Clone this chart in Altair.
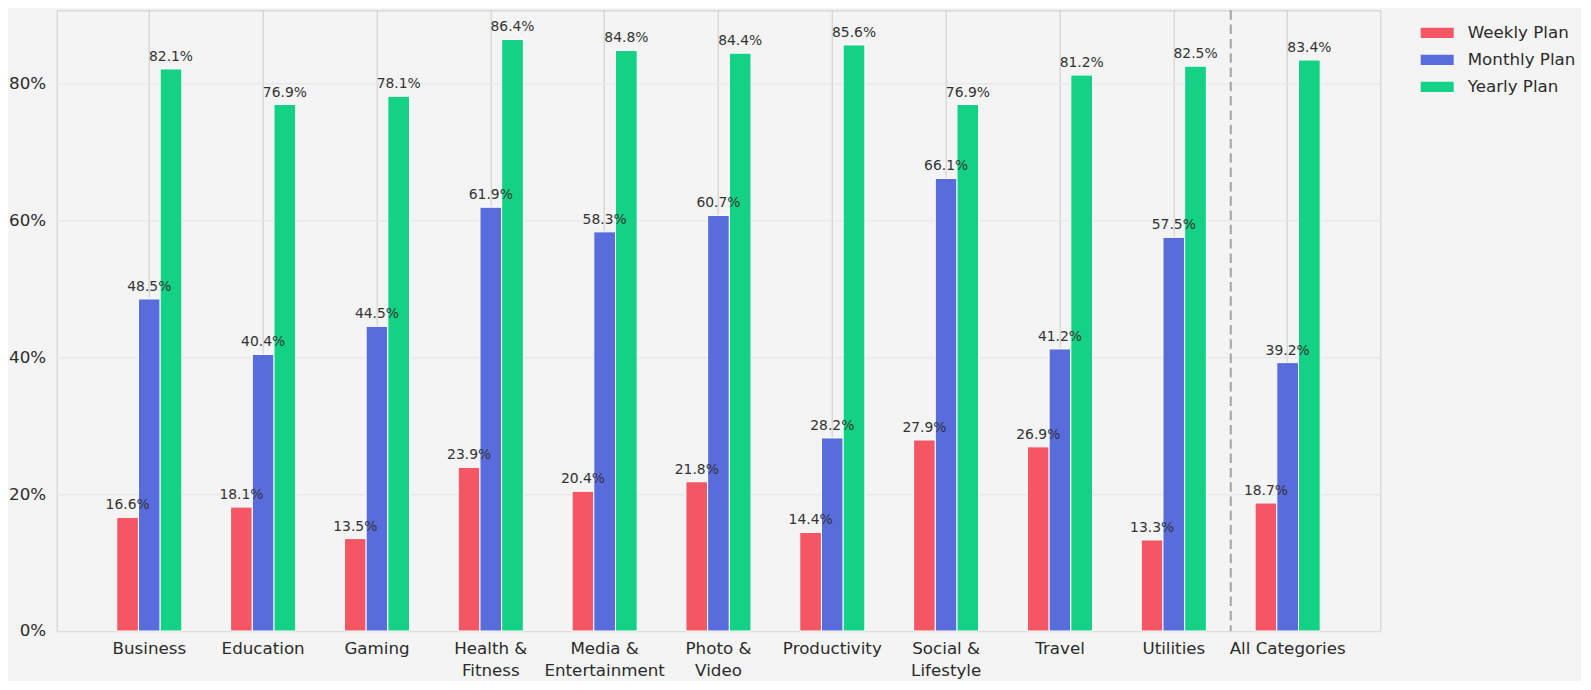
import altair as alt
import pandas as pd

categories = ["Business", "Education", "Gaming", "Health & Fitness", "Media & Entertainment",
              "Photo & Video", "Productivity", "Social & Lifestyle", "Travel", "Utilities",
              "All Categories"]
plans = ["Weekly Plan", "Monthly Plan", "Yearly Plan"]
weekly = [16.6, 18.1, 13.5, 23.9, 20.4, 21.8, 14.4, 27.9, 26.9, 13.3, 18.7]
monthly = [48.5, 40.4, 44.5, 61.9, 58.3, 60.7, 28.2, 66.1, 41.2, 57.5, 39.2]
yearly = [82.1, 76.9, 78.1, 86.4, 84.8, 84.4, 85.6, 76.9, 81.2, 82.5, 83.4]
colors = ["#F45763", "#586CDC", "#14D285"]
separator_before = ["All Categories"]

rows = []
for i, c in enumerate(categories):
    for p, vals in zip(plans, [weekly, monthly, yearly]):
        rows.append({"category": c, "plan": p, "value": vals[i]})
df = pd.DataFrame(rows)

x_axis = alt.Axis(title=None, labelAngle=0, bandPosition=0.5, grid=True, gridColor="#cbcbcb",
                  ticks=False, domain=False, labelPadding=10, labelFontSize=16.7,
                  labelColor="#2b2b2b", labelLineHeight=21.3,
                  labelExpr="split(replace(datum.value, ' & ', ' &|'), '|')")
x_scale = alt.Scale(paddingInner=0, paddingOuter=0.3137)

y_enc = alt.Y("value:Q", scale=alt.Scale(domain=[0, 90.66], nice=False),
              axis=alt.Axis(title=None, values=[0, 20, 40, 60, 80], labelExpr="datum.value + '%'",
                            gridColor="#e4e4e4", ticks=False, domain=False, labelPadding=11,
                            labelFontSize=16.7, labelColor="#2b2b2b"))
xoff = alt.XOffset("plan:N", sort=plans,
                   scale=alt.Scale(paddingInner=0, paddingOuter=0, range=[24.35, 89.45]))

bars = alt.Chart(df).mark_bar(stroke="white", strokeWidth=1).encode(
    x=alt.X("category:N", sort=categories, scale=x_scale, axis=x_axis),
    xOffset=xoff,
    y=y_enc,
    color=alt.Color("plan:N", sort=plans, scale=alt.Scale(domain=plans, range=colors),
                    legend=alt.Legend(title=None, orient="none", legendX=1364, legendY=6,
                                      symbolType="M-1,-0.312L1,-0.312L1,0.312L-1,0.312Z",
                                      symbolSize=1089, symbolStrokeWidth=0,
                                      labelFontSize=16.7, labelColor="#2b2b2b",
                                      labelOffset=14, rowPadding=1)),
)

labels = alt.Chart(df).transform_calculate(
    label="format(datum.value, '.1f') + '%'"
).mark_text(baseline="alphabetic", dy=-8, fontSize=13.9, color="#333333").encode(
    x=alt.X("category:N", sort=categories, scale=x_scale, axis=x_axis),
    xOffset=xoff,
    y=alt.Y("value:Q"),
    text="label:N",
)

rule = alt.Chart(pd.DataFrame({"category": separator_before})).mark_rule(
    color="#a3a3a3", strokeDash=[9.5, 4.8], strokeWidth=2
).encode(
    x=alt.X("category:N", sort=categories, scale=x_scale, axis=x_axis, bandPosition=0),
)

chart = alt.layer(bars, labels, rule).properties(
    width=1323.6, height=620.7, background="#f4f4f4",
    autosize=alt.AutoSizeParams(type="none"),
    padding={"left": 48.7, "top": 2.3, "right": 201, "bottom": 50},
).configure(font="DejaVu Sans").configure_view(
    stroke="#cbcbcb", strokeWidth=1, fill="#f4f4f4"
)

chart.save("out.html", embed_options={"renderer": "svg", "actions": False})
